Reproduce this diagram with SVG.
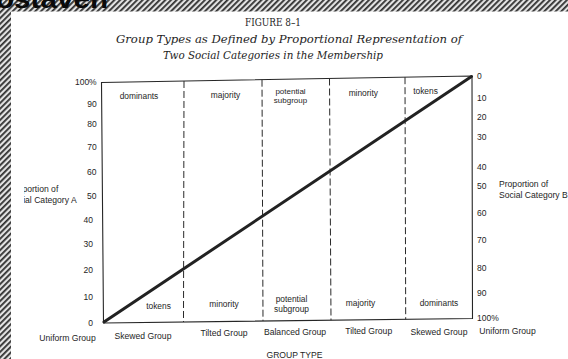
<svg xmlns="http://www.w3.org/2000/svg" width="568" height="359" viewBox="0 0 568 359">
<defs>
<pattern id="hatch" patternUnits="userSpaceOnUse" width="4" height="4" patternTransform="rotate(45)">
<rect width="4" height="4" fill="#e2e2e2"/>
<rect x="0" y="0" width="1.8" height="4" fill="#303030"/>
</pattern>
<clipPath id="leftclip"><rect x="24" y="150" width="100" height="80"/></clipPath>
</defs>
<style>
.sans{font-family:"Liberation Sans",Arial,sans-serif;fill:#1e1e1e}
.tick{font-size:8.5px}
.cell{font-size:8.4px;text-anchor:middle}
.lab{font-size:8.6px}
.frame{stroke:#262626;stroke-width:1.1;fill:none}
.div{stroke:#2a2a2a;stroke-width:1;stroke-dasharray:7 3;fill:none}
.serif{font-family:"DejaVu Serif","Liberation Serif",serif;fill:#1e1e1e}
</style>
<rect width="568" height="359" fill="#ffffff"/>
<g id="border">
<rect x="0" y="0" width="568" height="11.5" fill="url(#hatch)"/>
<rect x="0" y="0" width="11" height="359" fill="url(#hatch)"/>
<text x="-4" y="7.5" font-family="Liberation Sans,Arial,sans-serif" font-weight="bold" font-size="26" fill="#0a0a0a" textLength="112" lengthAdjust="spacingAndGlyphs">ostaven</text>
</g>
<g id="title">
<text class="serif" x="273" y="25.5" font-size="10.5" text-anchor="middle" textLength="56" lengthAdjust="spacingAndGlyphs">FIGURE 8–1</text>
<text class="serif" x="116" y="42.5" font-size="11.5" font-style="italic" textLength="346" lengthAdjust="spacingAndGlyphs">Group Types as Defined by Proportional Representation of</text>
<text class="serif" x="163" y="58.5" font-size="11.5" font-style="italic" textLength="220" lengthAdjust="spacingAndGlyphs">Two Social Categories in the Membership</text>
</g>
<g id="connectors">
<path class="frame" d="M101.5 82.5 L472 76 L472.5 318.5 L103.5 323 Z"/>
<line class="div" x1="184" y1="81" x2="183.5" y2="322"/>
<line class="div" x1="262" y1="79.7" x2="263" y2="321"/>
<line class="div" x1="329.5" y1="78.5" x2="331" y2="320.2"/>
<line class="div" x1="405" y1="77.2" x2="405.7" y2="319.3"/>
<line x1="104" y1="322" x2="471.5" y2="76.5" stroke="#222" stroke-width="3" stroke-linecap="round"/>
</g>
<g id="left-axis" class="sans tick" text-anchor="end">
<text x="96.7" y="85.3">100%</text>
<text x="96.7" y="106.5">90</text>
<text x="96.7" y="127">80</text>
<text x="96.7" y="150">70</text>
<text x="96.5" y="175">60</text>
<text x="96.5" y="199.2">50</text>
<text x="93" y="222.5">40</text>
<text x="93" y="247">30</text>
<text x="93" y="272.5">20</text>
<text x="93" y="299.7">10</text>
<text x="93" y="326.2">0</text>
</g>
<g id="right-axis" class="sans tick">
<text x="477" y="79">0</text>
<text x="477" y="100.7">10</text>
<text x="477" y="120">20</text>
<text x="477" y="139.7">30</text>
<text x="477" y="169.7">40</text>
<text x="477" y="189">50</text>
<text x="477" y="216">60</text>
<text x="477" y="243">70</text>
<text x="477" y="271">80</text>
<text x="477" y="296">90</text>
<text x="477" y="321">100%</text>
</g>
<g id="axis-titles" class="sans lab">
<g clip-path="url(#leftclip)">
<text x="58.3" y="192" text-anchor="end">portion of</text>
<text x="76.7" y="202.5" text-anchor="end">ial Category A</text>
</g>
<text x="499" y="187">Proportion of</text>
<text x="499" y="197.5">Social Category B</text>
</g>
<g id="top-cells" class="sans cell">
<text x="139" y="98.5">dominants</text>
<text x="225.5" y="97.5">majority</text>
<text x="290.5" y="93.5" font-size="8">potential</text>
<text x="290.5" y="102.5" font-size="8">subgroup</text>
<text x="363.3" y="96">minority</text>
<text x="425.5" y="94">tokens</text>
</g>
<g id="bottom-cells" class="sans cell">
<text x="158.5" y="309">tokens</text>
<text x="224" y="306.5">minority</text>
<text x="291.5" y="302">potential</text>
<text x="291.5" y="311.5">subgroup</text>
<text x="360.5" y="305.5">majority</text>
<text x="439" y="305.5">dominants</text>
</g>
<g id="group-types" class="sans lab" text-anchor="middle">
<text x="67.5" y="341">Uniform Group</text>
<text x="143" y="339">Skewed Group</text>
<text x="224" y="336">Tilted Group</text>
<text x="295" y="335">Balanced Group</text>
<text x="368.7" y="334">Tilted Group</text>
<text x="439" y="334.5">Skewed Group</text>
<text x="507.5" y="333.5">Uniform Group</text>
<text x="294.5" y="358">GROUP TYPE</text>
</g>
</svg>
